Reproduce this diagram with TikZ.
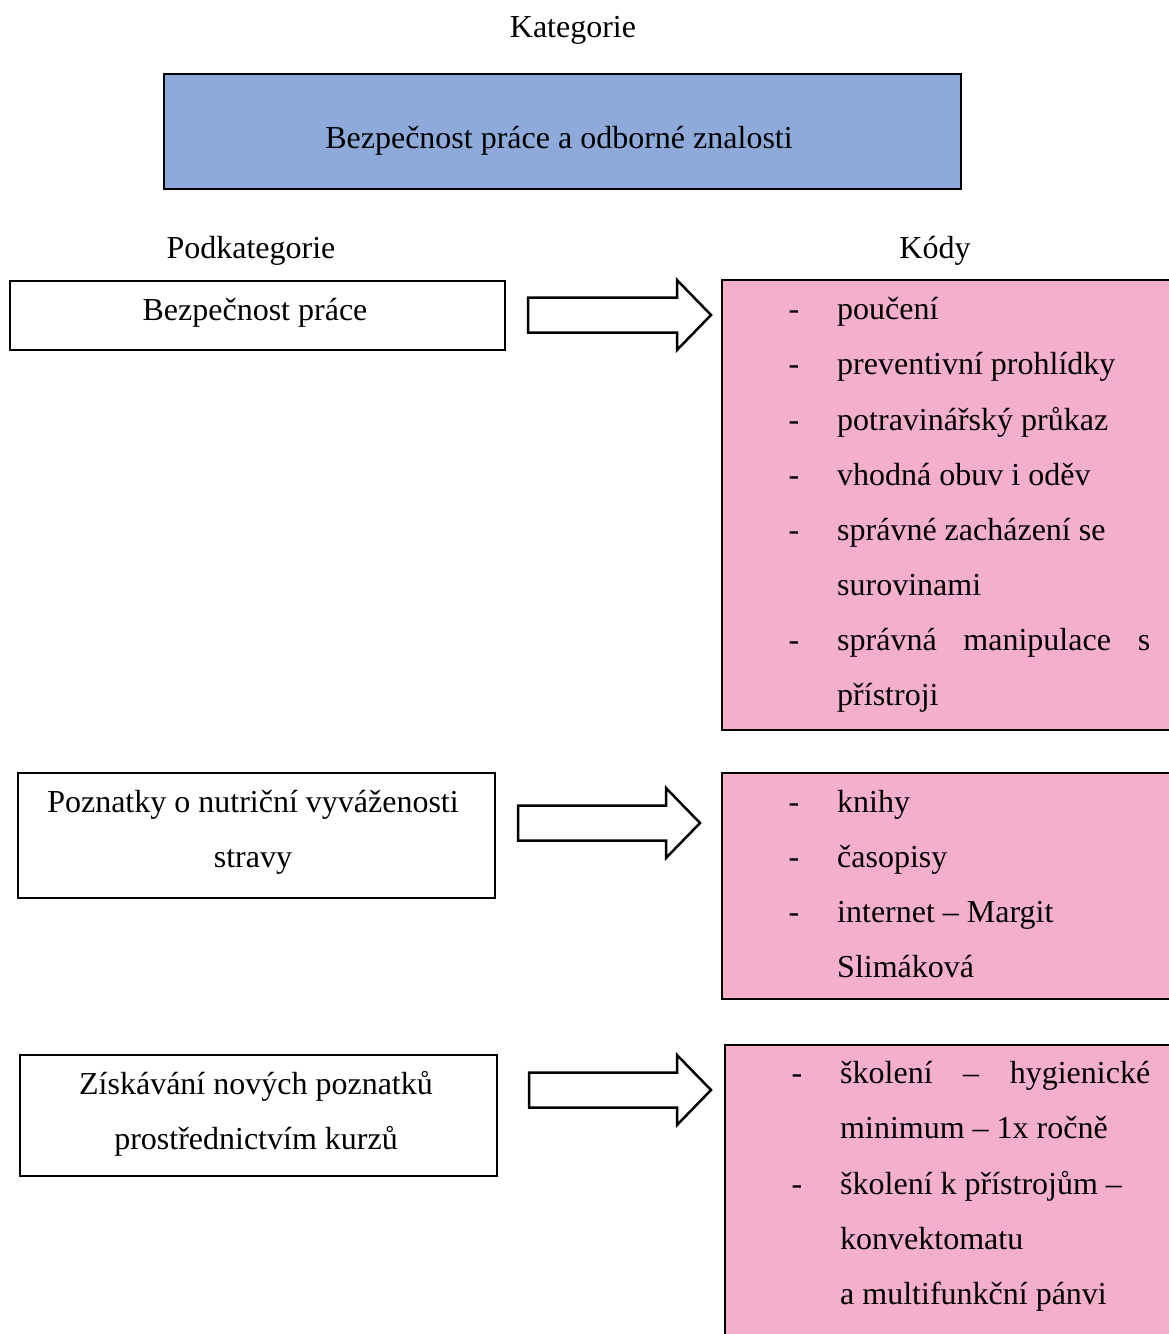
\documentclass[tikz,border=0pt]{standalone}
\usepackage{fontspec}
\setmainfont{Liberation Serif}
\definecolor{catblue}{HTML}{8EAADB}
\definecolor{codepink}{HTML}{F4AFCB}
\begin{document}
\begin{tikzpicture}[x=1pt,y=-1pt,
  frame/.style={draw=black, line width=2.5pt, anchor=north west, inner sep=0pt, outer sep=0pt},
  txt/.style={inner sep=0pt, anchor=base, font=\fontsize{32}{55}\selectfont},
  ltxt/.style={txt, anchor=base west},
  blockarrow/.style={draw=black, line width=2.5pt, fill=white, line join=miter}]
\useasboundingbox (0,0) rectangle (1169,1334);
\clip (0,0) rectangle (1169,1334);

% headings
\node[txt] (kat) at (573,37) {Kategorie};
\node[frame, fill=catblue, minimum width=797pt, minimum height=115pt] (cat) at (164,74) {};
\node[txt] (cattxt) at (559,148) {Bezpečnost práce a odborné znalosti};
\node[txt] (podkat) at (251,258) {Podkategorie};
\node[txt] (kody) at (935,258) {Kódy};

% subcategory boxes
\node[frame, minimum width=495pt, minimum height=69pt] (b1) at (10,281) {};
\node[txt] (b1t) at (255,320) {Bezpečnost práce};
\node[frame, minimum width=477pt, minimum height=125pt] (b2) at (18,773) {};
\node[txt] (b2t1) at (253,812) {Poznatky o nutriční vyváženosti};
\node[txt] (b2t2) at (253,867) {stravy};
\node[frame, minimum width=477pt, minimum height=121pt] (b3) at (20,1055) {};
\node[txt] (b3t1) at (256,1094) {Získávání nových poznatků};
\node[txt] (b3t2) at (256,1149) {prostřednictvím kurzů};

% block arrows
\draw[blockarrow] (528,297.5) -- (677,297.5) -- (677,280) -- (711,315) -- (677,350) -- (677,332.5) -- (528,332.5) -- cycle;
\draw[blockarrow] (518,805.5) -- (666,805.5) -- (666,788) -- (700,823) -- (666,858) -- (666,840.5) -- (518,840.5) -- cycle;
\draw[blockarrow] (529,1072.5) -- (677,1072.5) -- (677,1055) -- (711,1090) -- (677,1125) -- (677,1107.5) -- (529,1107.5) -- cycle;

% code boxes
\node[frame, fill=codepink, minimum width=470pt, minimum height=450pt] (k1) at (722,280) {};
\foreach \i/\y in {1/319,2/374,3/430,4/485,5/540,6/650}
  \node[txt] (k1d\i) at (794,\y) {-};
\node[ltxt] (k1a) at (837,319) {poučení};
\node[ltxt] (k1b) at (837,374) {preventivní prohlídky};
\node[ltxt] (k1c) at (837,430) {potravinářský průkaz};
\node[ltxt] (k1e) at (837,485) {vhodná obuv i oděv};
\node[ltxt] (k1f) at (837,540) {správné zacházení se};
\node[ltxt] (k1g) at (837,595) {surovinami};
\node[ltxt] (k1h) at (837,650) {\hbox to 313pt{správná\hfill manipulace\hfill s}};
\node[ltxt] (k1i) at (837,705) {přístroji};

\node[frame, fill=codepink, minimum width=470pt, minimum height=226pt] (k2) at (722,773) {};
\foreach \i/\y in {1/812,2/867,3/922}
  \node[txt] (k2d\i) at (794,\y) {-};
\node[ltxt] (k2a) at (837,812) {knihy};
\node[ltxt] (k2b) at (837,867) {časopisy};
\node[ltxt] (k2c) at (837,922) {internet – Margit};
\node[ltxt] (k2e) at (837,977) {Slimáková};

\node[frame, fill=codepink, minimum width=470pt, minimum height=320pt] (k3) at (725,1045) {};
\foreach \i/\y in {1/1083,2/1194}
  \node[txt] (k3d\i) at (797,\y) {-};
\node[ltxt] (k3a) at (840,1083) {\hbox to 310pt{školení\hfill –\hfill hygienické}};
\node[ltxt] (k3b) at (840,1138) {minimum – 1x ročně};
\node[ltxt] (k3c) at (840,1194) {školení k přístrojům –};
\node[ltxt] (k3e) at (840,1249) {konvektomatu};
\node[ltxt] (k3f) at (840,1304) {a multifunkční pánvi};
\end{tikzpicture}
\end{document}
